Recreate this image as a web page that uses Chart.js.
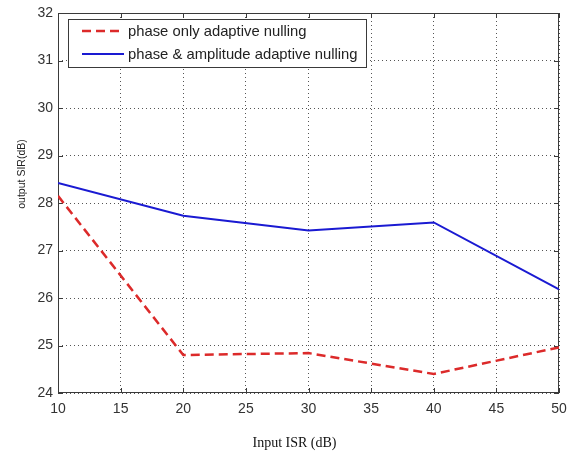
<!DOCTYPE html>
<html>
<head>
<meta charset="utf-8">
<script src="https://cdn.jsdelivr.net/npm/chart.js@4/dist/chart.umd.min.js"></script>
<style>
html,body{margin:0;padding:0;background:#fff;}
#wrap{width:570px;height:454px;position:relative;}
</style>
</head>
<body>
<div id="wrap"><canvas id="c" width="570" height="454"></canvas></div>
<script>
const inputISR = [10, 20, 30, 40, 50];
const phaseOnly = [28.15, 24.8, 24.84, 24.4, 24.96];
const phaseAmp = [28.42, 27.73, 27.42, 27.59, 26.18];
const xTicks = [10, 15, 20, 25, 30, 35, 40, 45, 50];
const yTicks = [24, 25, 26, 27, 28, 29, 30, 31, 32];
const seriesLabels = ['phase only adaptive nulling', 'phase & amplitude adaptive nulling'];
const xTitle = 'Input ISR (dB)';
const yTitle = 'output SIR(dB)';

const RED = '#dc2a2a';
const BLUE = '#1a1ad2';

const decor = {
  id: 'decor',
  beforeDatasetsDraw(chart) {
    const {ctx, chartArea: a, scales} = chart;
    ctx.save();
    ctx.strokeStyle = '#3a3a3a';
    ctx.lineWidth = 1;
    ctx.strokeRect(a.left + 0.5, a.top + 0.5, a.right - a.left - 1, a.bottom - a.top - 1);
    ctx.beginPath();
    xTicks.forEach(v => {
      const x = Math.round(scales.x.getPixelForValue(v)) + 0.5;
      ctx.moveTo(x, a.bottom); ctx.lineTo(x, a.bottom - 5);
      ctx.moveTo(x, a.top); ctx.lineTo(x, a.top + 5);
    });
    yTicks.forEach(v => {
      const y = Math.round(scales.y.getPixelForValue(v)) + 0.5;
      ctx.moveTo(a.left, y); ctx.lineTo(a.left + 5, y);
      ctx.moveTo(a.right, y); ctx.lineTo(a.right - 5, y);
    });
    ctx.stroke();
    ctx.restore();
  },
  afterDatasetsDraw(chart) {
    const {ctx, chartArea: a} = chart;
    ctx.save();
    const lx = a.left + 10, ly = a.top + 6, lw = 298, lh = 48;
    ctx.fillStyle = '#fff';
    ctx.fillRect(lx, ly, lw, lh);
    ctx.strokeStyle = '#3a3a3a';
    ctx.lineWidth = 1;
    ctx.strokeRect(lx + 0.5, ly + 0.5, lw, lh);
    const ds = chart.data.datasets;
    ds.forEach((d, i) => {
      const y = ly + 12 + i * 23;
      ctx.strokeStyle = d.borderColor;
      ctx.lineWidth = d.borderWidth;
      ctx.setLineDash(d.borderDash || []);
      ctx.beginPath();
      ctx.moveTo(lx + 14, y); ctx.lineTo(lx + 56, y);
      ctx.stroke();
      ctx.setLineDash([]);
      ctx.fillStyle = '#222';
      ctx.font = '14.8px "Liberation Sans", Arial, sans-serif';
      ctx.textBaseline = 'middle';
      ctx.textAlign = 'left';
      ctx.fillText(d.label, lx + 60, y + 1);
    });
    ctx.fillStyle = '#111';
    ctx.font = '14px "Liberation Serif", "Times New Roman", serif';
    ctx.textAlign = 'center';
    ctx.textBaseline = 'alphabetic';
    ctx.fillText(xTitle, 294.5, 447);
    ctx.save();
    ctx.translate(22, 174);
    ctx.rotate(-Math.PI / 2);
    ctx.font = '10.5px "Liberation Sans", Arial, sans-serif';
    ctx.fillStyle = '#222';
    ctx.textBaseline = 'middle';
    ctx.fillText(yTitle, 0, 0);
    ctx.restore();
    ctx.restore();
  }
};

new Chart(document.getElementById('c'), {
  type: 'line',
  data: {
    datasets: [
      {label: seriesLabels[0], data: inputISR.map((x, i) => ({x, y: phaseOnly[i]})),
       borderColor: RED, borderWidth: 2.5, borderDash: [9, 5], pointRadius: 0, tension: 0, fill: false},
      {label: seriesLabels[1], data: inputISR.map((x, i) => ({x, y: phaseAmp[i]})),
       borderColor: BLUE, borderWidth: 2, pointRadius: 0, tension: 0, fill: false}
    ]
  },
  options: {
    responsive: false,
    animation: false,
    layout: {padding: {top: 13, right: 11, left: 0, bottom: 0}},
    plugins: {legend: {display: false}, tooltip: {enabled: false}},
    scales: {
      x: {
        type: 'linear', min: 10, max: 50,
        afterBuildTicks: s => { s.ticks = xTicks.map(v => ({value: v})); },
        afterFit: s => { s.height = 61; s.paddingLeft = 0; s.paddingRight = 0; },
        grid: {color: '#555', lineWidth: 1, drawTicks: false},
        border: {display: false, dash: [1, 3]},
        ticks: {color: '#333', font: {family: '"Liberation Sans", Arial, sans-serif', size: 14}, padding: 8, maxRotation: 0}
      },
      y: {
        min: 24, max: 32,
        afterBuildTicks: s => { s.ticks = yTicks.map(v => ({value: v})); },
        afterFit: s => { s.width = 58; s.paddingTop = 0; s.paddingBottom = 0; },
        grid: {color: '#555', lineWidth: 1, drawTicks: false},
        border: {display: false, dash: [1, 3]},
        ticks: {color: '#333', font: {family: '"Liberation Sans", Arial, sans-serif', size: 14}, padding: 5}
      }
    }
  },
  plugins: [decor]
});
</script>
</body>
</html>
